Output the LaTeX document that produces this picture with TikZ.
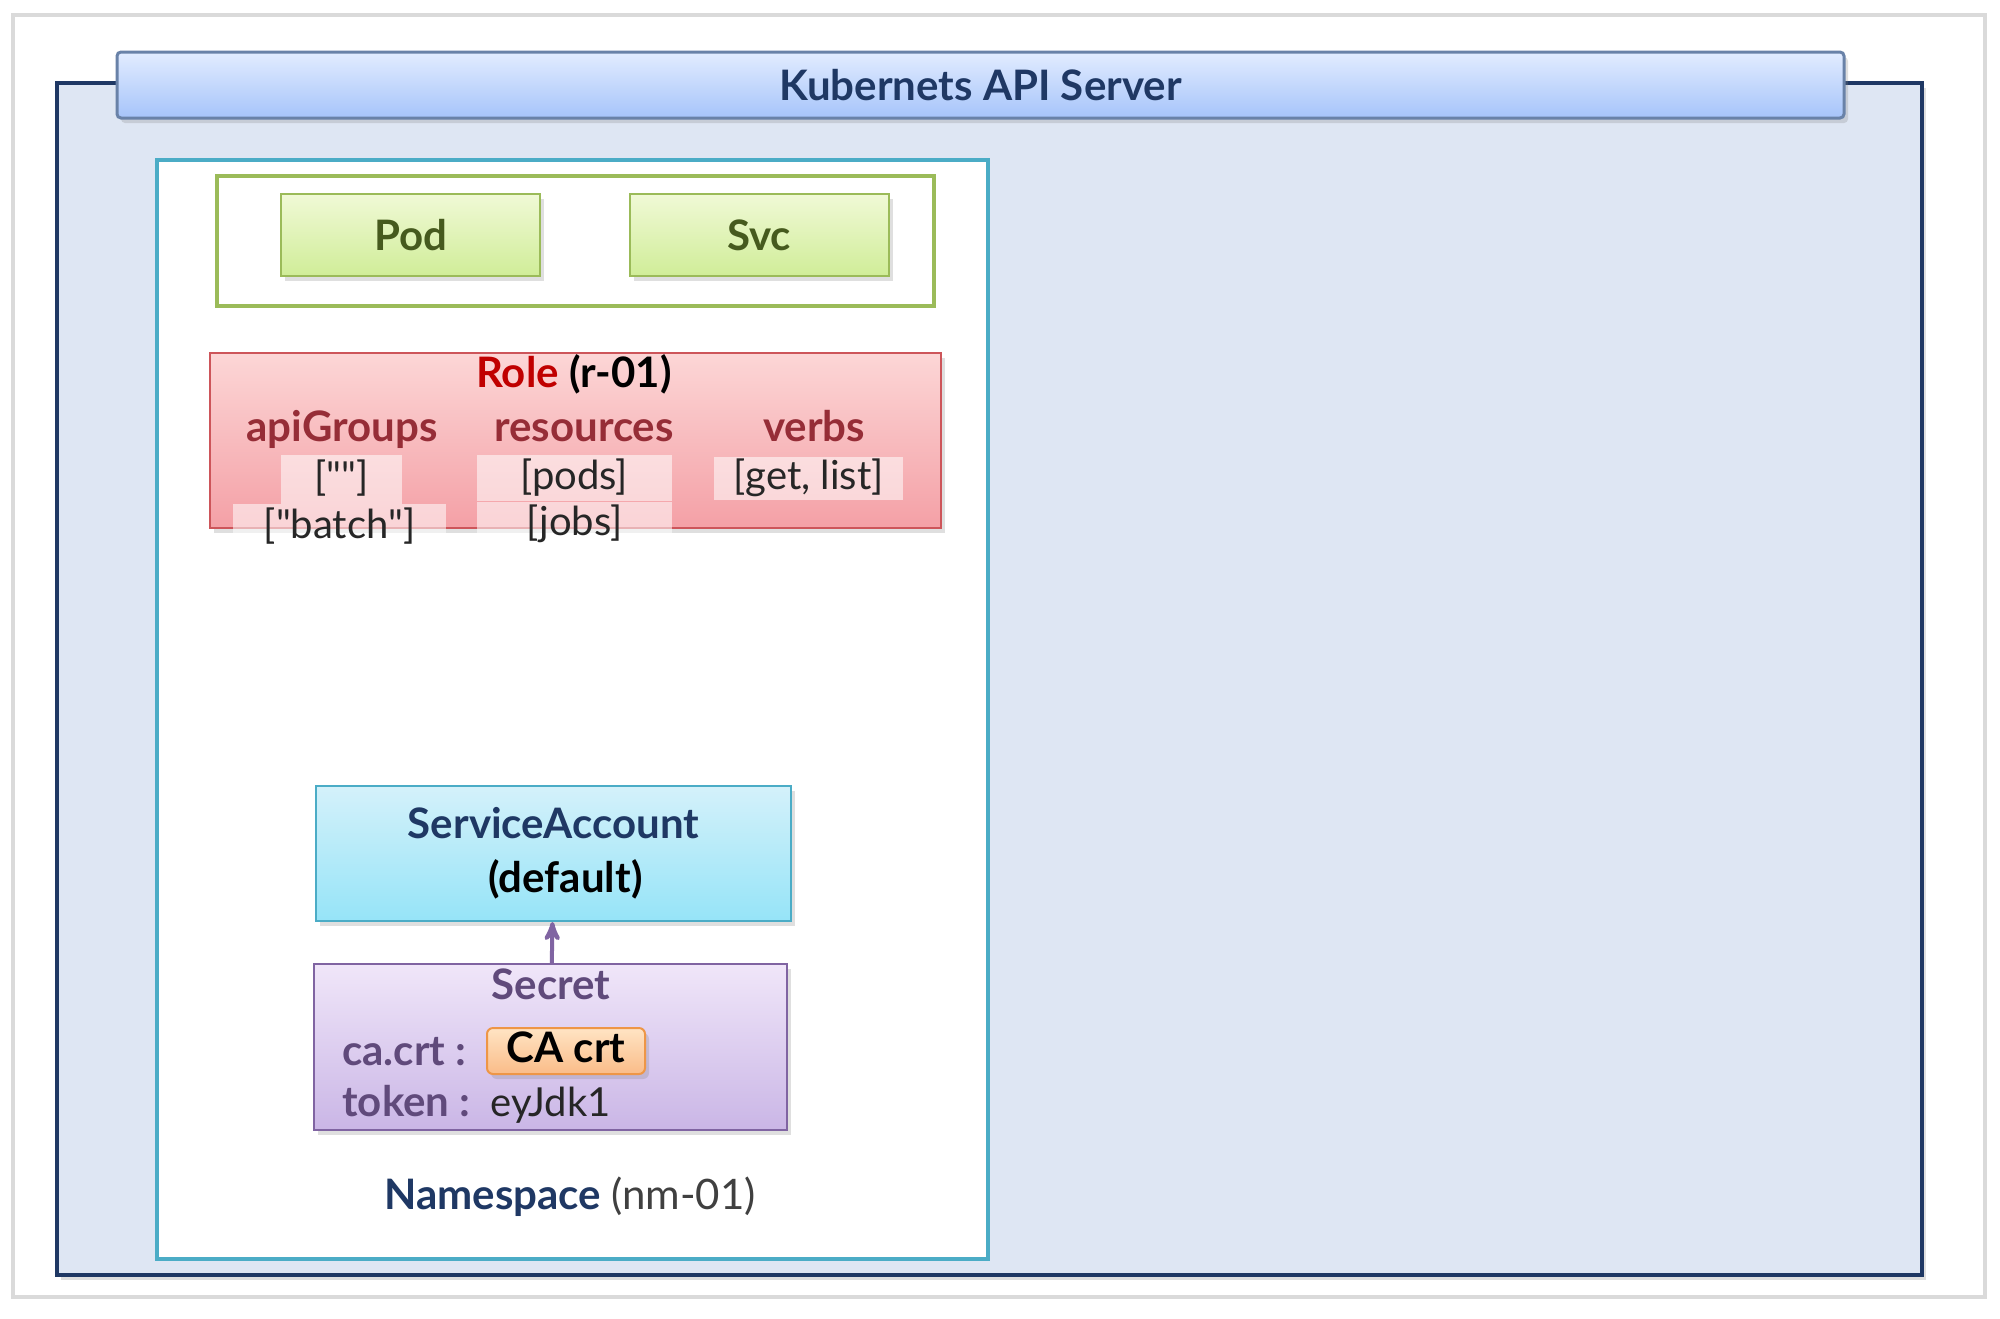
\documentclass[tikz,border=0pt]{standalone}
\usepackage{fontspec}
\setmainfont{Lato}[Ligatures=TeXOff]
\usepackage{tikz}
\usetikzlibrary{arrows,positioning,shadows}
\definecolor{colornavy}{RGB}{31,56,100}
\definecolor{colorframe}{RGB}{222,230,243}
\definecolor{colorteal}{RGB}{75,172,198}
\definecolor{colorolive}{RGB}{155,187,89}
\definecolor{colorpodtext}{RGB}{70,90,30}
\definecolor{colorrolered}{RGB}{192,0,0}
\definecolor{colorrolehead}{RGB}{150,45,55}
\definecolor{colorroleline}{RGB}{205,85,90}
\definecolor{colorsecret}{RGB}{96,74,123}
\definecolor{colorsecretline}{RGB}{128,100,162}
\definecolor{colorcaline}{RGB}{238,150,70}
\definecolor{colorheadline}{RGB}{105,130,168}
\definecolor{colorborder}{RGB}{218,218,218}
\tikzstyle{every node}=[font=\fontsize{21}{25}\selectfont\bfseries, inner sep=0pt]
\tikzstyle{softshadow}=[drop shadow={opacity=0.25, shadow xshift=2pt, shadow yshift=-2.5pt}]
\tikzstyle{label}=[text height=15pt, text depth=4pt]
\tikzstyle{header}=[rectangle, rounded corners=2pt, draw=colorheadline, line width=1.5pt, top color={rgb,255:red,226;green,236;blue,255}, bottom color={rgb,255:red,166;green,196;blue,250}, minimum width=863.5pt, minimum height=33pt, text=colornavy, softshadow]
\tikzstyle{resource}=[rectangle, draw=colorolive, line width=1pt, top color={rgb,255:red,240;green,249;blue,214}, bottom color={rgb,255:red,208;green,237;blue,152}, minimum width=129.5pt, minimum height=41pt, text=colorpodtext, softshadow]
\tikzstyle{role}=[rectangle, draw=colorroleline, line width=1pt, top color={rgb,255:red,252;green,214;blue,214}, bottom color={rgb,255:red,244;green,160;blue,166}, minimum width=365.5pt, minimum height=87.5pt, softshadow]
\tikzstyle{rolehead}=[label, text=colorrolehead]
\tikzstyle{rolevalue}=[label, rectangle, fill=white, fill opacity=0.55, text opacity=1, text=black!85, font=\fontsize{20}{24}\selectfont\mdseries]
\tikzstyle{account}=[rectangle, draw=colorteal, line width=1pt, top color={rgb,255:red,212;green,241;blue,250}, bottom color={rgb,255:red,150;green,228;blue,248}, minimum width=237.5pt, minimum height=67.5pt, softshadow]
\tikzstyle{secretbox}=[rectangle, draw=colorsecretline, line width=1pt, top color={rgb,255:red,240;green,230;blue,249}, bottom color={rgb,255:red,202;green,182;blue,230}, minimum width=236.5pt, minimum height=83pt, softshadow]
\tikzstyle{secretkey}=[label, text=colorsecret, anchor=west]
\tikzstyle{cabox}=[label, rectangle, rounded corners=3pt, draw=colorcaline, line width=1pt, top color={rgb,255:red,255;green,228;blue,196}, bottom color={rgb,255:red,250;green,188;blue,136}, minimum width=79pt, minimum height=23pt, softshadow]

\begin{document}
\begin{tikzpicture}[x=0.5pt, y=-0.5pt, >=stealth']
	\useasboundingbox (0,0) rectangle (2000,1318);
	\fill[white] (0,0) rectangle (2000,1318);
	\draw[colorborder, line width=2pt] (13,15) rectangle (1985,1297);
	
	\node[rectangle, fill=colorframe, draw=colornavy, line width=2pt, minimum width=932.5pt, minimum height=596pt, softshadow] at (989.5, 679) (server) {};
	
	\node[header] at (980.5, 85) (apiserver) {Kubernets API Server};
	
	\node[rectangle, fill=white, draw=colorteal, line width=2pt, minimum width=415.5pt, minimum height=549.5pt] at (572.5, 709.5) (ns) {};
	
	\node[rectangle, fill=white, draw=colorolive, line width=2pt, minimum width=358.5pt, minimum height=65pt] at (575.5, 241) (objects) {};
	
	\node[resource] at (410.5, 235) (pod) {Pod};
	
	\node[resource] at (759, 235) (svc) {Svc};
	
	\node[role] at (575.5, 440.5) (role) {};
	\node[label] at (574, 376) (roletitle) {\textcolor{colorrolered}{Role} (r-01)};
	\node[rolehead] at (342, 430) (apigroups) {apiGroups};
	\node[rolehead] at (584, 430) (resources) {resources};
	\node[rolehead] at (814, 430) (verbs) {verbs};
	\node[rolevalue, minimum width=60.5pt, minimum height=24.5pt] at (341.5, 479.5) (grpcore) {[""]};
	\node[rolevalue, minimum width=106.5pt, minimum height=23.5pt] at (339.5, 527.5) (grpbatch) {["batch"]};
	\node[rolevalue, minimum width=97.5pt, minimum height=23pt] at (574.5, 478) (respods) {[pods]};
	\node[rolevalue, minimum width=97.5pt, minimum height=23pt] at (574.5, 524.5) (resjobs) {[jobs]};
	\node[rolevalue, minimum width=94.5pt, minimum height=21.5pt] at (808.5, 478.5) (verblist) {[get, list]};
	
	\node[account, align=center] at (553.5, 853.5) (sa) {\textcolor{colornavy}{ServiceAccount}\\[2pt]\hspace*{12pt}(default)};
	
	\node[secretbox] at (550.5, 1047) (secret) {};
	\node[label, text=colorsecret] at (551, 988) (secrettitle) {Secret};
	\node[secretkey] at (342, 1054) (cakey) {ca.crt :};
	\node[cabox] at (566, 1051) (cacrt) {CA crt};
	\node[secretkey] at (342, 1105) (tokenkey) {token :};
	\node[label, anchor=west, text=black!85, font=\fontsize{20}{24}\selectfont\mdseries] at (490, 1105) (token) {eyJdk1};
	
	\path (secret) edge[->, draw=colorsecretline, line width=2pt] (sa);
	
	\node[label] at (570, 1198) (nslabel) {\textcolor{colornavy}{Namespace} \textcolor{black!75}{\mdseries(nm-01)}};
	
\end{tikzpicture}
\end{document}
